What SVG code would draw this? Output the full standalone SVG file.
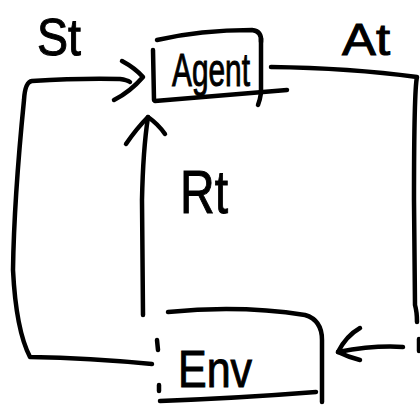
<svg xmlns="http://www.w3.org/2000/svg" width="420" height="407" viewBox="0 0 420 407">
  <style>
    .ink { fill: none; stroke: #000; stroke-width: 4.5; stroke-linecap: round; stroke-linejoin: round; }
    .lbl { font-family: "Liberation Sans", "DejaVu Sans", sans-serif; fill: #000; stroke: #000; stroke-width: 1; }
  </style>
  <rect width="420" height="407" fill="#fff"/>

  <!-- Agent node -->
  <g id="agent">
    <path class="ink" d="M157 40 Q200 30 252 30 Q262 31 261 42"/>
    <path class="ink" d="M153 50 L154 100"/>
    <path class="ink" d="M155 101 Q215 96 287 90"/>
    <path class="ink" d="M261 38 L261 93 Q260 100 258 105"/>
    <text class="lbl" x="172" y="86" font-size="46" textLength="78" lengthAdjust="spacingAndGlyphs">Agent</text>
  </g>

  <!-- Environment node -->
  <g id="env">
    <path class="ink" d="M168 312 Q240 305 305 315 Q322 320 322 340 L322 402"/>
    <path class="ink" d="M160 401 Q240 398 316 392"/>
    <path class="ink" d="M157 340 L158 350"/>
    <path class="ink" d="M159 385 L159 391"/>
    <text class="lbl" x="178" y="387" font-size="52" textLength="74" lengthAdjust="spacingAndGlyphs">Env</text>
  </g>

  <!-- Labels -->
  <g id="labels">
    <text class="lbl" x="37" y="55" font-size="52" textLength="44" lengthAdjust="spacingAndGlyphs">St</text>
    <text class="lbl" x="342" y="55" font-size="44" textLength="48" lengthAdjust="spacingAndGlyphs">At</text>
    <text class="lbl" x="180" y="213" font-size="62" textLength="48" lengthAdjust="spacingAndGlyphs">Rt</text>
  </g>

  <!-- Connectors -->
  <g id="connectors">
    <!-- state: env -> agent -->
    <path class="ink" d="M152 364 Q90 358 30 357 Q16 330 13 270 Q14 200 24 100 Q25 82 32 81 Q80 78 120 79 Q127 80 130 82"/>
    <path class="ink" d="M122 61 Q135 68 143 77 Q130 92 114 100"/>
    <!-- action: agent -> env -->
    <path class="ink" d="M271 67 Q350 68 417 77 Q414 90 414 200 L415 305 Q417 312 417 322"/>
    <path class="ink" d="M419 339 L419 351"/>
    <path class="ink" d="M403 347 Q375 345 338 352"/>
    <path class="ink" d="M360 328 Q346 336 338 352 Q348 357 360 360"/>
    <!-- reward: env -> agent -->
    <path class="ink" d="M143 315 L142 200 Q143 150 148 117"/>
    <path class="ink" d="M126 144 Q137 128 148 117 Q158 124 165 134"/>
  </g>
</svg>
